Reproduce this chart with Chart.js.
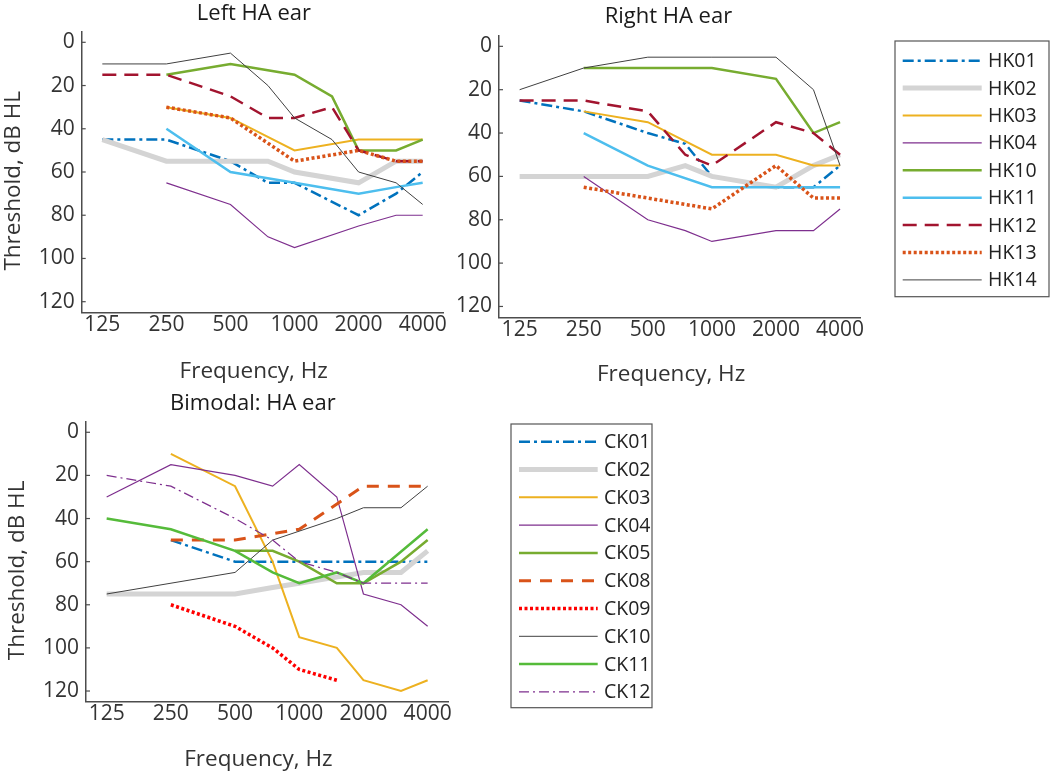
<!DOCTYPE html>
<html>
<head>
<meta charset="utf-8">
<script src="https://cdn.jsdelivr.net/npm/chart.js@4.4.1/dist/chart.umd.min.js"></script>
<style>
  html, body { margin: 0; padding: 0; background: #fff; }
  #wrap { position: relative; width: 1050px; height: 775px; overflow: hidden; }
  #wrap canvas { position: absolute; }
</style>
</head>
<body>
<div id="wrap">
  <canvas id="leftChart" width="450" height="390" style="left:0;top:0"></canvas>
  <canvas id="rightChart" width="610" height="390" style="left:440px;top:0"></canvas>
  <canvas id="bimodalChart" width="660" height="385" style="left:0;top:390px"></canvas>
</div>
<script>
const freqs = [125, 250, 500, 750, 1000, 1500, 2000, 3000, 4000];
const xTicks = [125, 250, 500, 1000, 2000, 4000];
const yTicks = [0, 20, 40, 60, 80, 100, 120];

const hkNames = ['HK01', 'HK02', 'HK03', 'HK04', 'HK10', 'HK11', 'HK12', 'HK13', 'HK14'];
const ckNames = ['CK01', 'CK02', 'CK03', 'CK04', 'CK05', 'CK08', 'CK09', 'CK10', 'CK11', 'CK12'];

// Left HA ear
const leftHK01 = [45, 45, 55, 65, 65, null, 80, 70, 60];
const leftHK02 = [45, 55, 55, 55, 60, null, 65, 55, 55];
const leftHK03 = [null, 30, 35, null, 50, null, 45, 45, 45];
const leftHK04 = [null, 65, 75, 90, 95, null, 85, 80, 80];
const leftHK10 = [null, 15, 10, null, 15, 25, 50, 50, 45];
const leftHK11 = [null, 40, 60, null, 65, null, 70, 67, 65];
const leftHK12 = [15, 15, 25, 35, 35, 30, 50, 55, 55];
const leftHK13 = [null, 30, 35, null, 55, null, 50, 55, 55];
const leftHK14 = [10, 10, 5, 20, 35, 45, 60, 65, 75];

// Right HA ear
const rightHK01 = [25, 30, 40, 45, 60, null, 65, 65, 55];
const rightHK02 = [60, 60, 60, 55, 60, null, 65, 55, 50];
const rightHK03 = [null, 30, 35, null, 50, null, 50, 55, 55];
const rightHK04 = [null, 60, 80, 85, 90, null, 85, 85, 75];
const rightHK10 = [null, 10, 10, null, 10, null, 15, 40, 35];
const rightHK11 = [null, 40, 55, null, 65, null, 65, 65, 65];
const rightHK12 = [25, 25, 30, 50, 55, null, 35, 40, 50];
const rightHK13 = [null, 65, 70, null, 75, null, 55, 70, 70];
const rightHK14 = [20, 10, 5, null, 5, null, 5, 20, 55];

// Bimodal: HA ear
const biCK01 = [null, 50, 60, null, 60, null, 60, null, 60];
const biCK02 = [75, 75, 75, 72, 70, null, 65, 65, 55];
const biCK03 = [null, 10, 25, 60, 95, 100, 115, 120, 115];
const biCK04 = [30, 15, 20, 25, 15, 30, 75, 80, 90];
const biCK05 = [null, null, 55, 55, 60, 70, 70, 60, 50];
const biCK08 = [null, 50, 50, null, 45, null, 25, null, 25];
const biCK09 = [null, 80, 90, 100, 110, 115, null, null, null];
const biCK10 = [75, null, 65, 50, null, 40, 35, 35, 25];
const biCK11 = [40, 45, 55, 65, 70, 65, 70, null, 45];
const biCK12 = [20, 25, 40, 50, 60, 65, 70, null, 70];

const FONT = "'Open Sans', sans-serif";
const AXIS_COLOR = '#4d4d4d';
const TEXT_COLOR = '#333333';
const NB = '\u00A0';

// line styles per listener
const styles = {
    HK01: { color: '#0072BD', width: 2.5, dash: [11, 4, 3, 4] },
    HK02: { color: '#D4D4D4', width: 5 },
    HK03: { color: '#EDB120', width: 2 },
    HK04: { color: '#7E2F8E', width: 1.2 },
    HK10: { color: '#77AC30', width: 2.5 },
    HK11: { color: '#4DBEEE', width: 2.5 },
    HK12: { color: '#A2142F', width: 2.5, dash: [14, 8] },
    HK13: { color: '#D95319', width: 3.5, dash: [3, 2.5] },
    HK14: { color: '#404040', width: 1 },
    CK01: { color: '#0072BD', width: 2.5, dash: [11, 4, 3, 4] },
    CK02: { color: '#D4D4D4', width: 5 },
    CK03: { color: '#EDB120', width: 2 },
    CK04: { color: '#7E2F8E', width: 1.2 },
    CK05: { color: '#77AC30', width: 2.5 },
    CK08: { color: '#D95319', width: 3, dash: [12, 9] },
    CK09: { color: '#FF0000', width: 3.5, dash: [3, 2.5] },
    CK10: { color: '#404040', width: 1 },
    CK11: { color: '#55BB3A', width: 2.5 },
    CK12: { color: '#7E2F8E', width: 1.2, dash: [10, 4, 2, 4] }
};

// small inward ticks on the y axis, like MATLAB
const inwardTicks = {
    id: 'inwardTicks',
    afterDraw(chart) {
        const ctx = chart.ctx;
        const y = chart.scales.y;
        const left = chart.chartArea.left;
        ctx.save();
        ctx.strokeStyle = AXIS_COLOR;
        ctx.lineWidth = 1.2;
        y.ticks.forEach(t => {
            const py = y.getPixelForValue(t.value);
            ctx.beginPath();
            ctx.moveTo(left, py);
            ctx.lineTo(left + 4, py);
            ctx.stroke();
        });
        ctx.restore();
    }
};

// boxed legend drawn from the dataset styles
const boxLegend = {
    id: 'boxLegend',
    afterDraw(chart, args, o) {
        if (!o || !o.box) return;
        const ctx = chart.ctx;
        ctx.save();
        ctx.strokeStyle = '#555555';
        ctx.lineWidth = 1.2;
        ctx.strokeRect(o.box[0], o.box[1], o.box[2], o.box[3]);
        chart.data.datasets.forEach((ds, i) => {
            const y = o.y0 + i * o.step;
            ctx.strokeStyle = ds.borderColor;
            ctx.lineWidth = ds.borderWidth;
            ctx.setLineDash(ds.borderDash || []);
            ctx.beginPath();
            ctx.moveTo(o.x1, y);
            ctx.lineTo(o.x2, y);
            ctx.stroke();
            ctx.setLineDash([]);
            ctx.fillStyle = '#222222';
            ctx.font = '19.5px ' + FONT;
            ctx.textAlign = 'left';
            ctx.textBaseline = 'middle';
            ctx.fillText(ds.label, o.textX, y + 1);
        });
        ctx.restore();
    }
};

function makeChart(canvasId, names, series, o) {
    const datasets = names.map((name, i) => ({
        label: name,
        data: freqs.map((f, k) => ({ x: f, y: series[i][k] })),
        borderColor: styles[name].color,
        borderWidth: styles[name].width,
        borderDash: styles[name].dash || [],
        pointRadius: 0,
        tension: 0,
        spanGaps: true,
        fill: false,
        order: names.length - i
    }));

    const plugins = [inwardTicks];
    if (o.legend) plugins.push(boxLegend);

    return new Chart(document.getElementById(canvasId), {
        type: 'line',
        data: { datasets },
        plugins,
        options: {
            responsive: false,
            animation: false,
            layout: { padding: { left: 0, top: 0, right: o.padR, bottom: 0 } },
            plugins: {
                legend: { display: false },
                tooltip: { enabled: false },
                title: {
                    display: true,
                    text: o.title,
                    fullSize: false,
                    color: '#1a1a1a',
                    font: { family: FONT, size: 22, weight: 'normal' },
                    padding: { top: o.tPadT, bottom: o.tPadB }
                },
                boxLegend: o.legend || {}
            },
            scales: {
                x: {
                    type: 'logarithmic',
                    min: 100,
                    max: 5000,
                    afterBuildTicks: s => { s.ticks = xTicks.map(v => ({ value: v })); },
                    afterFit: s => { s.height = o.xH; },
                    grid: { display: false, drawTicks: false },
                    border: { display: true, color: AXIS_COLOR, width: 1.5 },
                    ticks: {
                        callback: v => String(v),
                        autoSkip: false,
                        maxRotation: 0,
                        padding: 0,
                        color: TEXT_COLOR,
                        font: { family: FONT, size: 21 }
                    },
                    title: {
                        display: true,
                        text: 'Frequency, Hz' + NB + NB + NB,
                        color: TEXT_COLOR,
                        font: { family: FONT, size: 22.5 },
                        padding: { top: 0, bottom: o.xTitlePad }
                    }
                },
                y: {
                    type: 'linear',
                    reverse: true,
                    min: -5,
                    max: 125,
                    afterBuildTicks: s => { s.ticks = yTicks.map(v => ({ value: v })); },
                    afterFit: s => { s.width = o.yW; },
                    grid: { display: false, drawTicks: false },
                    border: { display: true, color: AXIS_COLOR, width: 1.5 },
                    ticks: {
                        padding: 7,
                        color: TEXT_COLOR,
                        font: { family: FONT, size: 21 }
                    },
                    title: {
                        display: !!o.yTitle,
                        text: 'Threshold, dB HL' + NB + NB + NB,
                        color: TEXT_COLOR,
                        font: { family: FONT, size: 22.5 },
                        padding: { top: o.yTitlePad || 0, bottom: 0 }
                    }
                }
            }
        }
    });
}

makeChart('leftChart', hkNames,
    [leftHK01, leftHK02, leftHK03, leftHK04, leftHK10, leftHK11, leftHK12, leftHK13, leftHK14],
    { title: 'Left HA ear' + NB + NB + NB, padR: 6.7, yW: 81.7, xH: 77.5, tPadT: 0.8, tPadB: 4.3,
      xTitlePad: 4.5, yTitle: true, yTitlePad: 0 });

makeChart('rightChart', hkNames,
    [rightHK01, rightHK02, rightHK03, rightHK04, rightHK10, rightHK11, rightHK12, rightHK13, rightHK14],
    { title: 'Right HA ear' + NB + NB + NB + NB, padR: 189.3, yW: 59, xH: 72.7, tPadT: 3.8, tPadB: 5.3,
      xTitlePad: 1.5, yTitle: false,
      legend: { box: [455, 41, 154, 255.7], x1: 462.7, x2: 541.7, textX: 548, y0: 60.7, step: 27.4 } });

makeChart('bimodalChart', ckNames,
    [biCK01, biCK02, biCK03, biCK04, biCK05, biCK08, biCK09, biCK10, biCK11, biCK12],
    { title: 'Bimodal: HA ear' + NB + NB + NB + NB + NB, padR: 211.7, yW: 86, xH: 73.2, tPadT: 0.8, tPadB: 4.3,
      xTitlePad: 1.5, yTitle: true, yTitlePad: 4.5,
      legend: { box: [511, 34, 141, 283.7], x1: 519, x2: 597.7, textX: 604, y0: 51.7, step: 27.8 } });
</script>
</body>
</html>
